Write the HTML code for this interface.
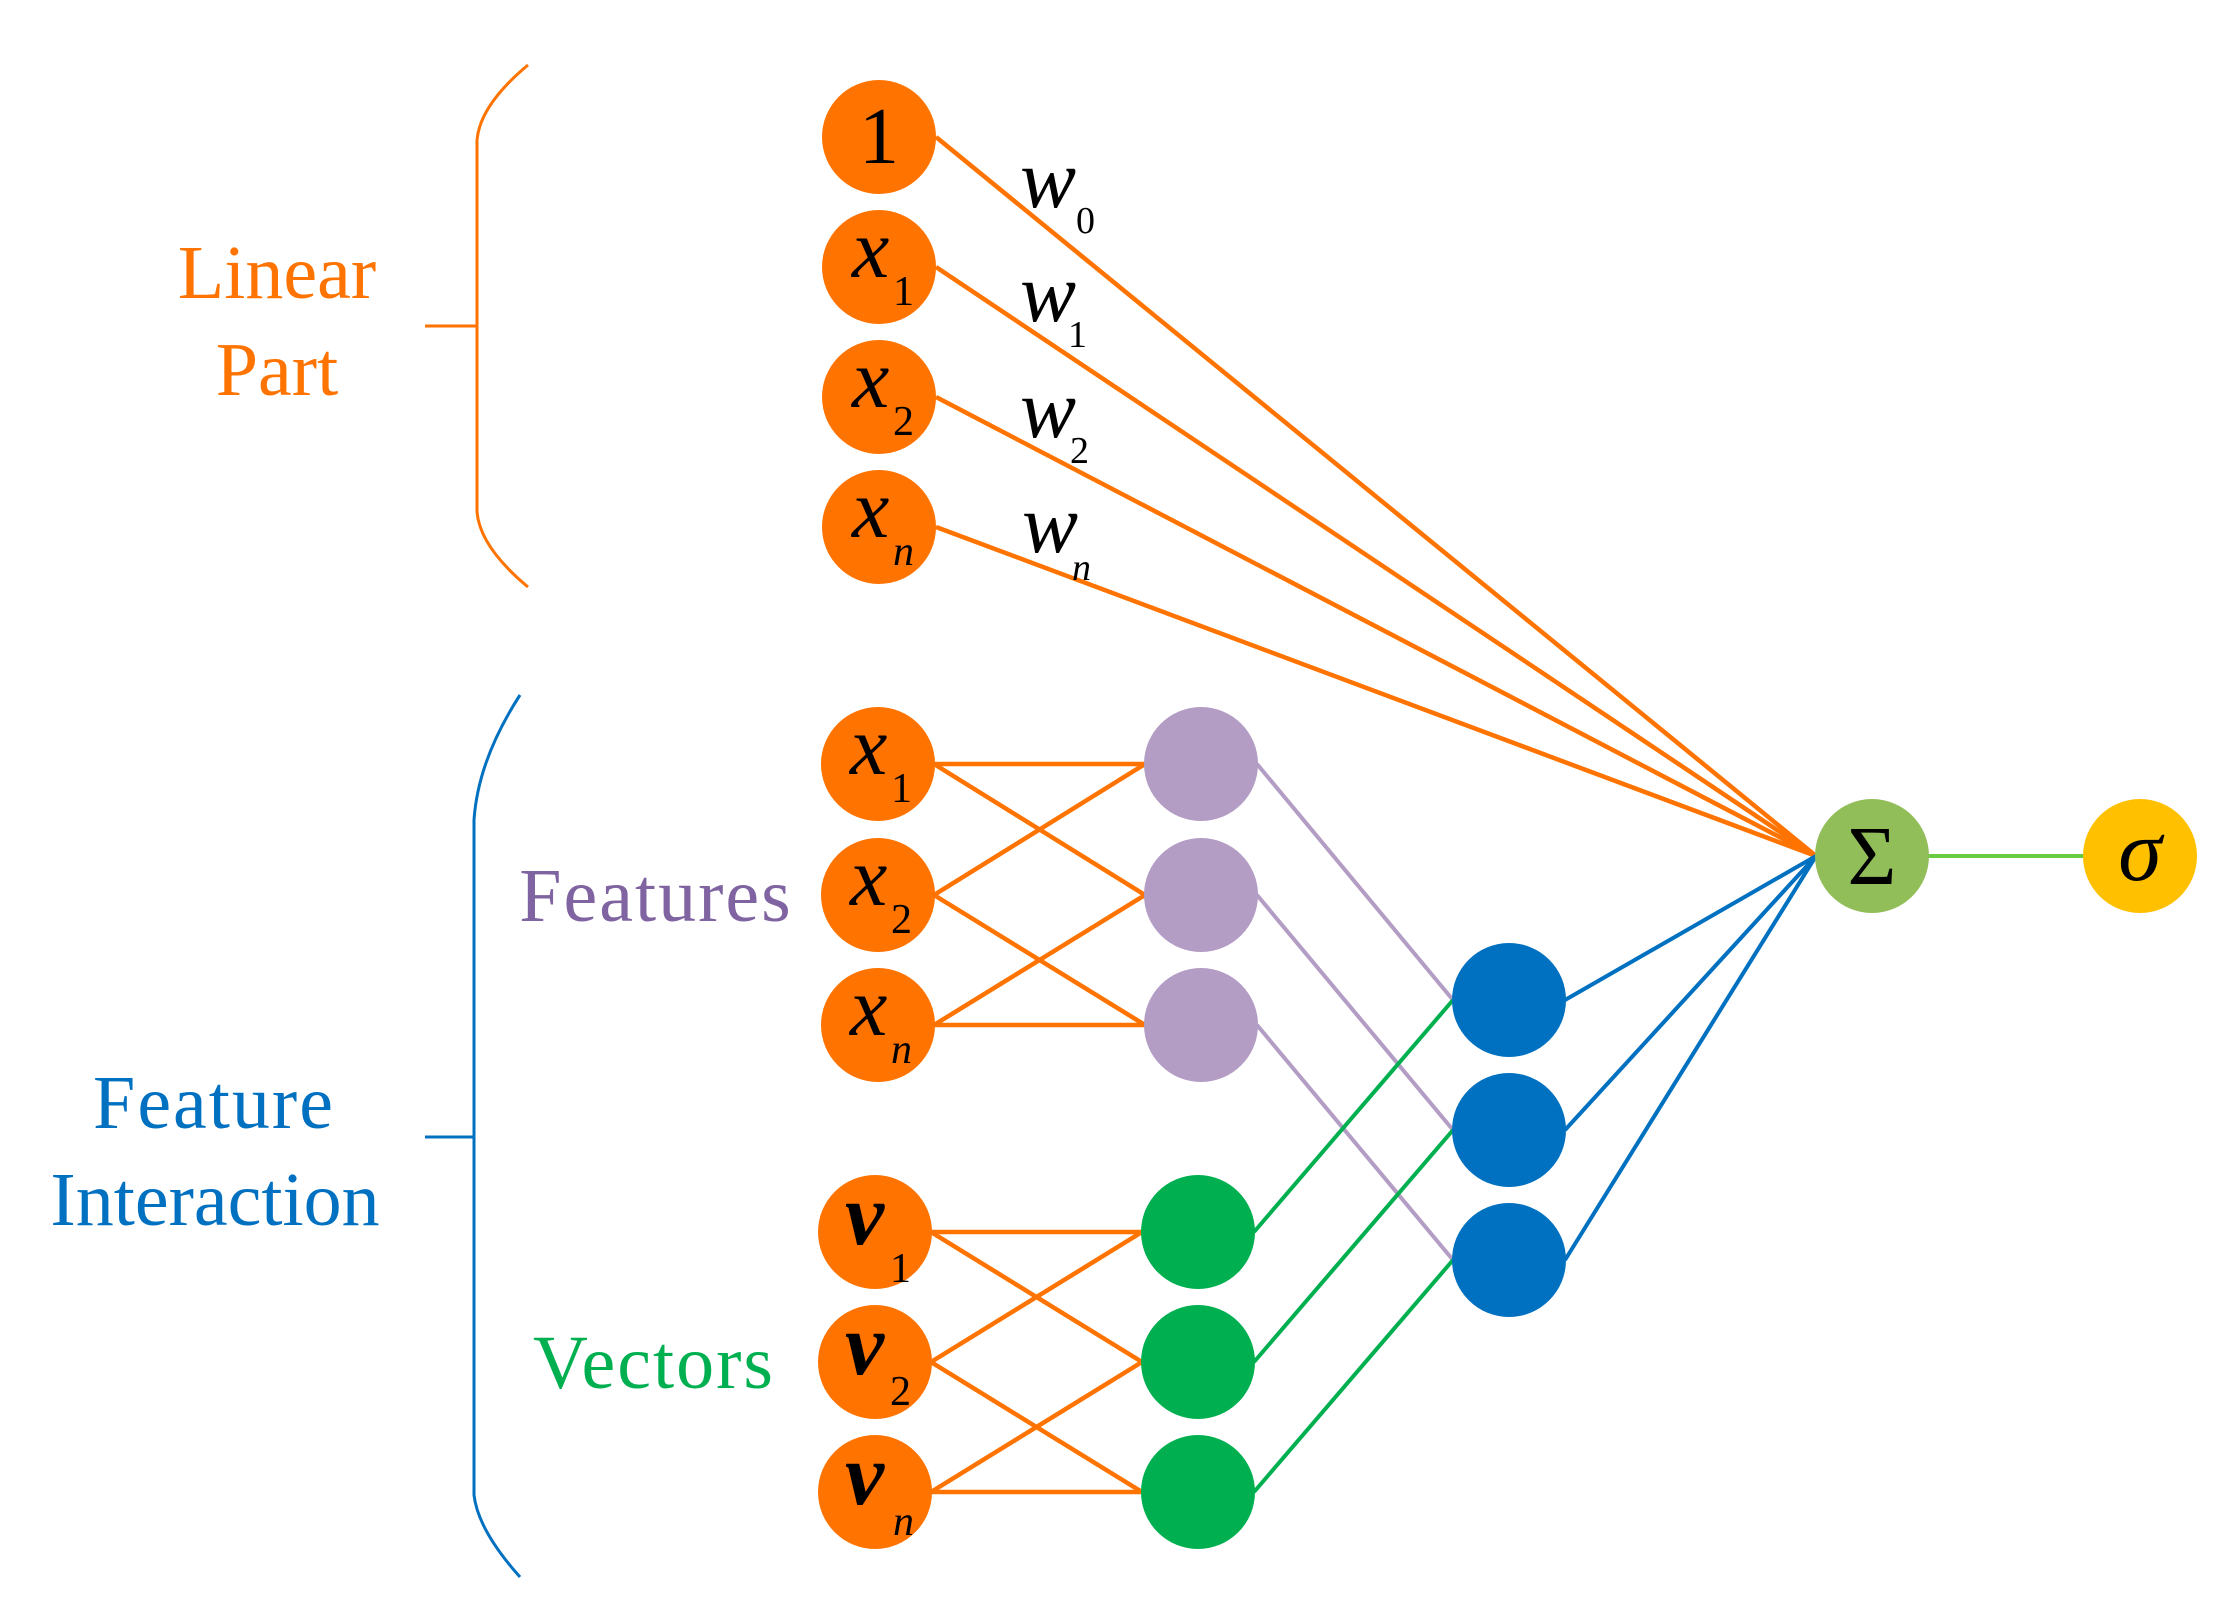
<!DOCTYPE html>
<html><head><meta charset="utf-8"><style>html,body{margin:0;padding:0;background:#fff}svg{display:block}</style></head><body>
<svg width="2235" height="1614" viewBox="0 0 2235 1614" xmlns="http://www.w3.org/2000/svg" font-family="Liberation Serif, serif">
<g stroke="#FF7300" stroke-width="4.5" fill="none">
<line x1="936" y1="137" x2="1816" y2="856"/>
<line x1="936" y1="267" x2="1816" y2="856"/>
<line x1="936" y1="397" x2="1816" y2="856"/>
<line x1="936" y1="527" x2="1816" y2="856"/>
<line x1="934" y1="764" x2="1145" y2="764"/>
<line x1="934" y1="764" x2="1145" y2="895"/>
<line x1="934" y1="895" x2="1145" y2="764"/>
<line x1="934" y1="895" x2="1145" y2="1025"/>
<line x1="934" y1="1025" x2="1145" y2="895"/>
<line x1="934" y1="1025" x2="1145" y2="1025"/>
<line x1="931" y1="1232" x2="1142" y2="1232"/>
<line x1="931" y1="1232" x2="1142" y2="1362"/>
<line x1="931" y1="1362" x2="1142" y2="1232"/>
<line x1="931" y1="1362" x2="1142" y2="1492"/>
<line x1="931" y1="1492" x2="1142" y2="1362"/>
<line x1="931" y1="1492" x2="1142" y2="1492"/>
</g>
<g stroke="#B39DC4" stroke-width="4" fill="none">
<line x1="1257" y1="764" x2="1453" y2="1000"/>
<line x1="1257" y1="895" x2="1453" y2="1130"/>
<line x1="1257" y1="1025" x2="1453" y2="1260"/>
</g>
<g stroke="#00B050" stroke-width="4" fill="none">
<line x1="1254" y1="1232" x2="1453" y2="1000"/>
<line x1="1254" y1="1362" x2="1453" y2="1130"/>
<line x1="1254" y1="1492" x2="1453" y2="1260"/>
</g>
<g stroke="#0070C0" stroke-width="4" fill="none">
<line x1="1565" y1="1000" x2="1816" y2="856"/>
<line x1="1565" y1="1130" x2="1816" y2="856"/>
<line x1="1565" y1="1260" x2="1816" y2="856"/>
</g>
<line x1="1928" y1="856" x2="2084" y2="856" stroke="#66CC44" stroke-width="4"/>
<path d="M528 65 Q480 105 477 140 L477 512 Q480 547 528 587 M425 326 L477 326" stroke="#FF7300" stroke-width="3" fill="none"/>
<path d="M520 695 Q478 760 474 820 L474 1495 Q478 1530 520 1577 M425 1137 L474 1137" stroke="#0070C0" stroke-width="3" fill="none"/>
<g fill="#FF7300">
<circle cx="879" cy="137" r="57"/><circle cx="879" cy="267" r="57"/><circle cx="879" cy="397" r="57"/><circle cx="879" cy="527" r="57"/>
<circle cx="878" cy="764" r="57"/><circle cx="878" cy="895" r="57"/><circle cx="878" cy="1025" r="57"/>
<circle cx="875" cy="1232" r="57"/><circle cx="875" cy="1362" r="57"/><circle cx="875" cy="1492" r="57"/>
</g>
<g fill="#B39DC4"><circle cx="1201" cy="764" r="57"/><circle cx="1201" cy="895" r="57"/><circle cx="1201" cy="1025" r="57"/></g>
<g fill="#00B050"><circle cx="1198" cy="1232" r="57"/><circle cx="1198" cy="1362" r="57"/><circle cx="1198" cy="1492" r="57"/></g>
<g fill="#0070C0"><circle cx="1509" cy="1000" r="57"/><circle cx="1509" cy="1130" r="57"/><circle cx="1509" cy="1260" r="57"/></g>
<circle cx="1872" cy="856" r="57" fill="#92BE5A"/>
<circle cx="2140" cy="856" r="57" fill="#FFC000"/>
<g fill="#000">
<text x="879" y="163" font-size="80" text-anchor="middle">1</text>
<text x="852" y="277" font-size="84" font-style="italic">x</text><text x="893" y="305" font-size="42">1</text>
<text x="852" y="407" font-size="84" font-style="italic">x</text><text x="893" y="435" font-size="42">2</text>
<text x="852" y="537" font-size="84" font-style="italic">x</text><text x="893" y="565" font-size="42" font-style="italic">n</text>
<text x="850" y="774" font-size="84" font-style="italic">x</text><text x="891" y="802" font-size="42">1</text>
<text x="850" y="905" font-size="84" font-style="italic">x</text><text x="891" y="933" font-size="42">2</text>
<text x="850" y="1035" font-size="84" font-style="italic">x</text><text x="891" y="1063" font-size="42" font-style="italic">n</text>
<text x="845" y="1244" font-size="88" font-style="italic" font-weight="bold">v</text><text x="890" y="1282" font-size="42">1</text>
<text x="845" y="1374" font-size="88" font-style="italic" font-weight="bold">v</text><text x="890" y="1405" font-size="42">2</text>
<text x="845" y="1504" font-size="88" font-style="italic" font-weight="bold">v</text><text x="893" y="1535" font-size="42" font-style="italic">n</text>
<text x="1872" y="884" font-size="84" text-anchor="middle">Σ</text>
<text x="2140" y="880" font-size="88" font-style="italic" text-anchor="middle">σ</text>
<text x="1020" y="207" font-size="84" font-style="italic">w</text><text x="1076" y="233" font-size="38">0</text>
<text x="1020" y="321" font-size="84" font-style="italic">w</text><text x="1068" y="347" font-size="38">1</text>
<text x="1020" y="437" font-size="84" font-style="italic">w</text><text x="1070" y="463" font-size="38">2</text>
<text x="1022" y="552" font-size="84" font-style="italic">w</text><text x="1072" y="580" font-size="38" font-style="italic">n</text>
</g>
<g font-size="76" text-anchor="middle">
<text x="277" y="298" fill="#FF7300">Linear</text>
<text x="277" y="395" fill="#FF7300">Part</text>
<text x="214" y="1128" fill="#0070C0" letter-spacing="2">Feature</text>
<text x="215" y="1225" fill="#0070C0">Interaction</text>
<text x="656" y="921" fill="#8064A2" letter-spacing="2">Features</text>
<text x="654" y="1388" fill="#00B050" letter-spacing="2">Vectors</text>
</g>
</svg>
</body></html>
